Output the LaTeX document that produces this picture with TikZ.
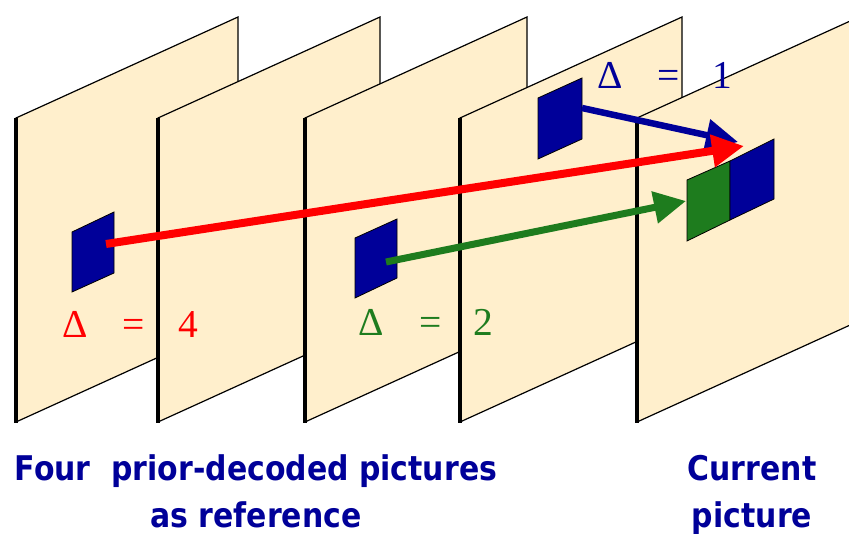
\documentclass[tikz,border=0pt]{standalone}
\usepackage{fontspec}
\setmainfont{Liberation Serif}
\newfontfamily\deltafont{Liberation Serif}
\newfontfamily\capfont[FakeStretch=0.88]{DejaVu Sans}
\usetikzlibrary{arrows.meta,positioning}
\definecolor{paper}{RGB}{255,239,204}
\definecolor{mvblue}{RGB}{0,0,153}
\definecolor{mvgreen}{RGB}{30,124,30}
\definecolor{mvred}{RGB}{255,0,0}
\tikzset{
  frame/.style={fill=paper, draw=black, line width=1.2pt, line join=miter},
  frameedge/.style={draw=black, line width=4pt},
  block/.style={draw=black, line width=0.8pt},
  mv/.style={line width=#1, -{Triangle[length=32pt,width=31pt]}},
  delta/.style={anchor=base west, inner sep=0pt, font=\deltafont\fontsize{39.5}{41}\selectfont},
  caption/.style={inner sep=0pt, align=center, text=mvblue,
    font=\capfont\bfseries\fontsize{34}{47}\selectfont}
}

\begin{document}
\begin{tikzpicture}[x=1pt,y=-1pt]
  \clip (0,0) rectangle (849,534);
  % the five pictures, back to front
  \foreach \x in {16,158,305,460,637} {
    \filldraw[frame] (\x,118) -- ++(222,-101) -- ++(0,304) -- ++(-222,101) -- cycle;
    \draw[frameedge] (\x,118) -- (\x,423);
  }
  % blocks
  \filldraw[block, fill=mvblue] (72,232) -- (114,212) -- (114,273) -- (72,292) -- cycle;
  \filldraw[block, fill=mvblue] (355,238) -- (397,219) -- (397,278) -- (355,298) -- cycle;
  \filldraw[block, fill=mvblue] (538,98) -- (582,78) -- (582,139) -- (538,159) -- cycle;
  \filldraw[block, fill=mvgreen] (687,180) -- (730,161) -- (730,220) -- (687,241) -- cycle;
  \filldraw[block, fill=mvblue] (730,161) -- (774,139) -- (774,199) -- (730,220) -- cycle;
  % motion vectors
  \coordinate (ref4) at (106,244);
  \coordinate (ref2) at (386,262);
  \coordinate (ref1) at (582,108);
  \coordinate (curred) at (744,146);
  \coordinate (curgreen) at (686,201);
  \coordinate (curblue) at (738,142);
  \draw[mv=6.5pt, mvblue] (ref1) -- (curblue);
  \draw[mv=8pt, mvred] (ref4) -- (curred);
  \draw[mv=7pt, mvgreen] (ref2) -- (curgreen);
  % labels
  \node[delta, text=mvred] (d4) at (62,338) {Δ\hspace{35pt}=\hspace{34pt}4};
  \node[delta, text=mvgreen] (d2) at (358,336) {Δ\hspace{35.5pt}=\hspace{32pt}2};
  \node[delta, text=mvblue] (d1) at (597,89) {Δ\hspace{35pt}=\hspace{33pt}1};
  \node[caption, anchor=base] (refcap) at (256,527) {Four\ \ prior-decoded pictures\\as reference};
  \node[caption, anchor=base] (curcap) at (752,527) {Current\\picture};
\end{tikzpicture}
\end{document}
